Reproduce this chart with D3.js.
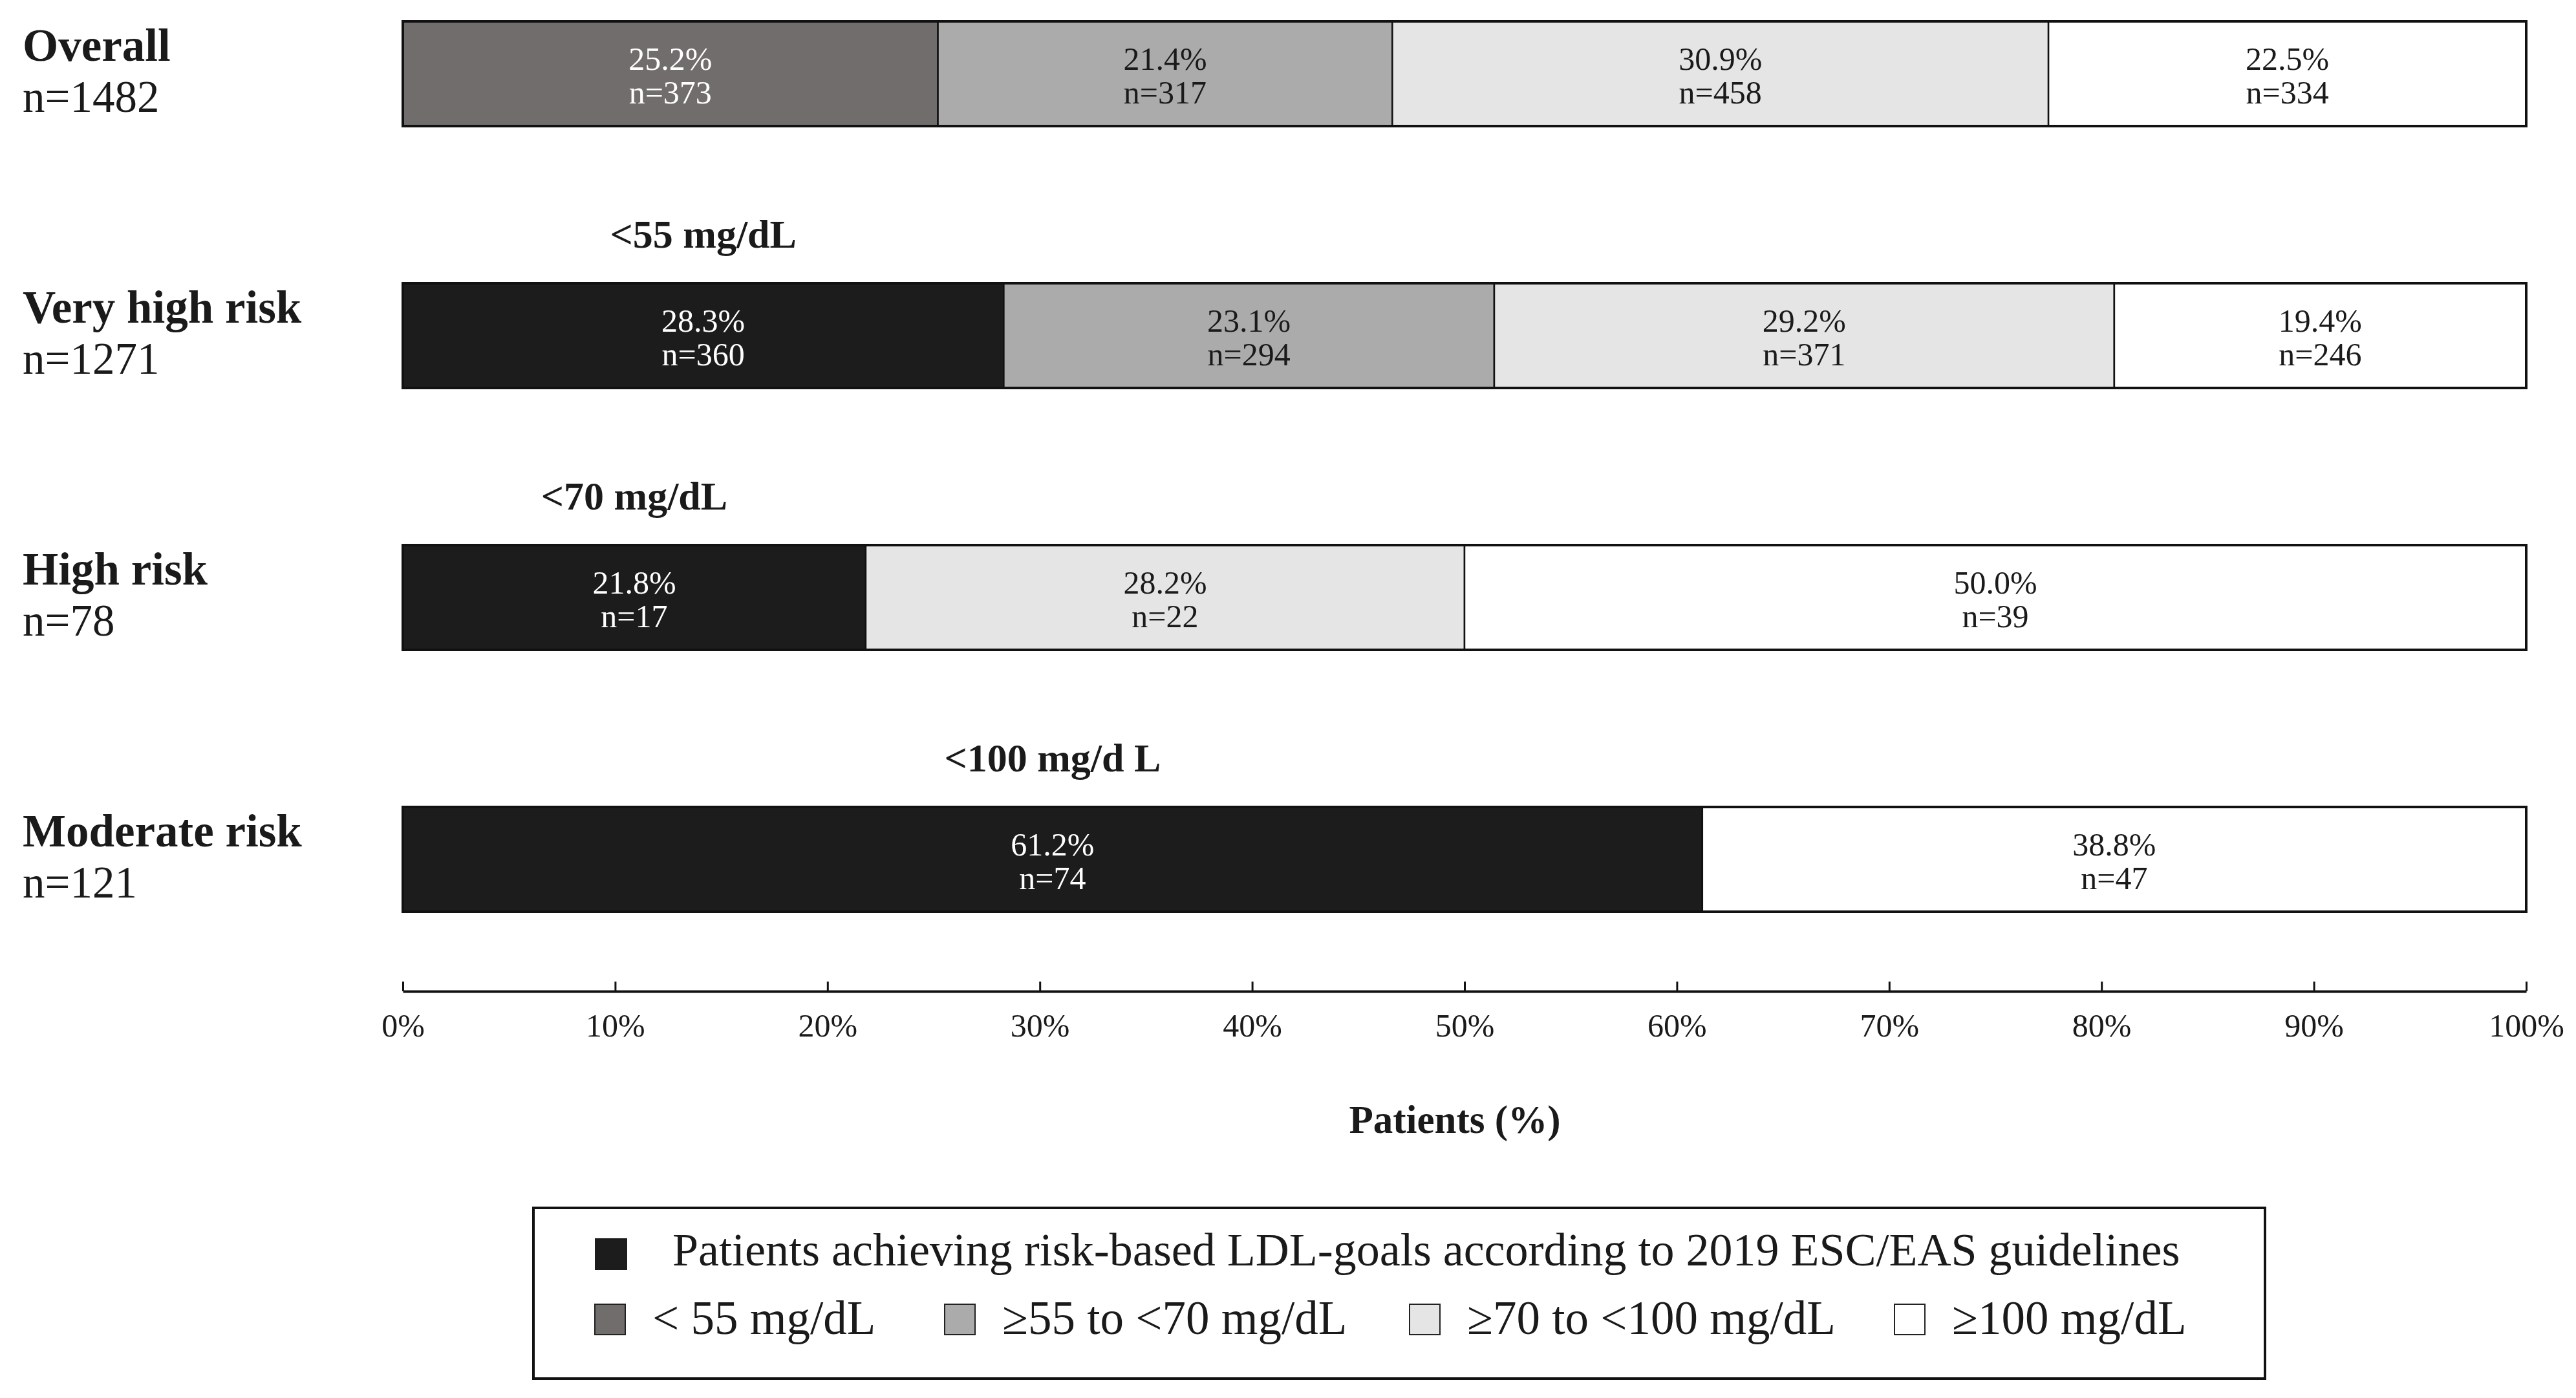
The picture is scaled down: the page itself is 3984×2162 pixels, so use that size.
<!DOCTYPE html>
<html>
<head>
<meta charset="utf-8">
<script src="https://cdn.jsdelivr.net/npm/d3@7"></script>
<style>
  html, body { margin: 0; padding: 0; background: #ffffff; }
  svg { display: block; }
  text { font-family: "Liberation Serif", "Times New Roman", serif; fill: #1a1a1a; }
</style>
</head>
<body>
<svg id="chart" width="3984" height="2162"></svg>
<script>
// ---------------- DATA ----------------
const categories = ["Overall", "Very high risk", "High risk", "Moderate risk"];
const totals = [1482, 1271, 78, 121];
const goalLabels = [null, "<55 mg/dL", "<70 mg/dL", "<100 mg/d L"];
const segPercents = [
  [25.2, 21.4, 30.9, 22.5],
  [28.3, 23.1, 29.2, 19.4],
  [21.8, 28.2, 50.0],
  [61.2, 38.8]
];
const segCounts = [
  [373, 317, 458, 334],
  [360, 294, 371, 246],
  [17, 22, 39],
  [74, 47]
];
const segClasses = [
  ["lt55", "55to70", "70to100", "ge100"],
  ["goal", "55to70", "70to100", "ge100"],
  ["goal", "70to100", "ge100"],
  ["goal", "ge100"]
];
const legendKeys = ["goal", "lt55", "55to70", "70to100", "ge100"];
const legendLabels = [
  "Patients achieving risk-based LDL-goals according to 2019 ESC/EAS guidelines",
  "< 55 mg/dL", "\u226555 to <70 mg/dL", "\u226570 to <100 mg/dL", "\u2265100 mg/dL"
];
const tickValues = [0, 10, 20, 30, 40, 50, 60, 70, 80, 90, 100];
const axisTitle = "Patients (%)";

// ---------------- SCALES ----------------
const svg = d3.select("#chart");
const x = d3.scaleLinear().domain([0, 100]).range([623, 3907]);
const y = d3.scaleBand().domain(categories).range([33, 1410]).paddingInner(0.6).paddingOuter(0);
const color = d3.scaleOrdinal().domain(legendKeys)
  .range(["#1c1c1c", "#716d6c", "#acabab", "#e5e5e5", "#ffffff"]);
const darkKeys = new Set(["goal", "lt55"]);
const fmt = d3.format(".1f");

// build segments
const rows = categories.map((c, i) => {
  let acc = 0;
  const segs = segPercents[i].map((p, j) => {
    const s = { cat: c, start: acc, end: acc + p, pct: p, n: segCounts[i][j], key: segClasses[i][j] };
    acc += p;
    return s;
  });
  return { cat: c, total: totals[i], goal: goalLabels[i], segs };
});

const bw = y.bandwidth();

// ---------------- BARS ----------------
const rowG = svg.selectAll("g.row").data(rows).join("g")
  .attr("class", "row")
  .attr("transform", d => `translate(0,${y(d.cat)})`);

rowG.selectAll("rect.seg").data(d => d.segs).join("rect")
  .attr("class", "seg")
  .attr("x", d => x(d.start))
  .attr("y", 0)
  .attr("width", d => x(d.end) - x(d.start))
  .attr("height", bw)
  .attr("fill", d => color(d.key))
  .attr("stroke", "#111")
  .attr("stroke-width", 2.5);

rowG.append("rect")
  .attr("x", x(0)).attr("y", 0)
  .attr("width", x(100) - x(0)).attr("height", bw)
  .attr("fill", "none").attr("stroke", "#111").attr("stroke-width", 4);

// segment labels
const lab = rowG.selectAll("text.seglab").data(d => d.segs).join("text")
  .attr("class", "seglab")
  .attr("text-anchor", "middle")
  .attr("font-size", 50)
  .style("fill", d => darkKeys.has(d.key) ? "#ffffff" : "#1a1a1a");
lab.append("tspan")
  .attr("x", d => x((d.start + d.end) / 2))
  .attr("y", bw / 2 - 6)
  .text(d => fmt(d.pct) + "%");
lab.append("tspan")
  .attr("x", d => x((d.start + d.end) / 2))
  .attr("y", bw / 2 + 46)
  .text(d => "n=" + d.n);

// category labels
rowG.append("text")
  .attr("x", 35).attr("y", 61)
  .attr("font-size", 71).attr("font-weight", "bold")
  .text(d => d.cat);
rowG.append("text")
  .attr("x", 35).attr("y", 140)
  .attr("font-size", 69)
  .text(d => "n=" + d.total);

// goal annotation labels (centered over first segment)
rowG.filter(d => d.goal).append("text")
  .attr("x", d => x((d.segs[0].start + d.segs[0].end) / 2))
  .attr("y", -55)
  .attr("text-anchor", "middle")
  .attr("font-size", 62).attr("font-weight", "bold")
  .text(d => d.goal);

// ---------------- AXIS ----------------
const axisY = 1533;
const axis = d3.axisBottom(x)
  .tickValues(tickValues)
  .tickFormat(d => d + "%")
  .tickSizeInner(-15)
  .tickSizeOuter(0)
  .tickPadding(34);
const ax = svg.append("g").attr("transform", `translate(0,${axisY})`).call(axis);
ax.select(".domain").attr("stroke", "#111").attr("stroke-width", 4);
ax.selectAll(".tick line").attr("stroke", "#111").attr("stroke-width", 3);
ax.selectAll(".tick text")
  .attr("font-size", 50)
  .attr("font-family", "Liberation Serif, serif")
  .style("fill", "#1a1a1a");

svg.append("text")
  .attr("x", 2250).attr("y", 1752)
  .attr("text-anchor", "middle")
  .attr("font-size", 61).attr("font-weight", "bold")
  .text(axisTitle);

// ---------------- LEGEND ----------------
const lg = svg.append("g");
lg.append("rect")
  .attr("x", 825).attr("y", 1868)
  .attr("width", 3503 - 825).attr("height", 2132 - 1868)
  .attr("fill", "#ffffff").attr("stroke", "#111").attr("stroke-width", 4);

// row 1: goal
lg.append("rect")
  .attr("x", 920).attr("y", 1915).attr("width", 50).attr("height", 49)
  .attr("fill", color(legendKeys[0]));
lg.append("text")
  .attr("x", 1040).attr("y", 1957)
  .attr("font-size", 72)
  .text(legendLabels[0]);

// row 2: ranges (layout slots for swatches)
const slotX = [920, 1461, 2180, 2930];
legendKeys.slice(1).forEach((k, i) => {
  lg.append("rect")
    .attr("x", slotX[i]).attr("y", 2017).attr("width", 47).attr("height", 47)
    .attr("fill", color(k)).attr("stroke", "#222").attr("stroke-width", 2);
  lg.append("text")
    .attr("x", slotX[i] + 89).attr("y", 2063)
    .attr("font-size", 73)
    .text(legendLabels[i + 1]);
});
</script>
</body>
</html>
